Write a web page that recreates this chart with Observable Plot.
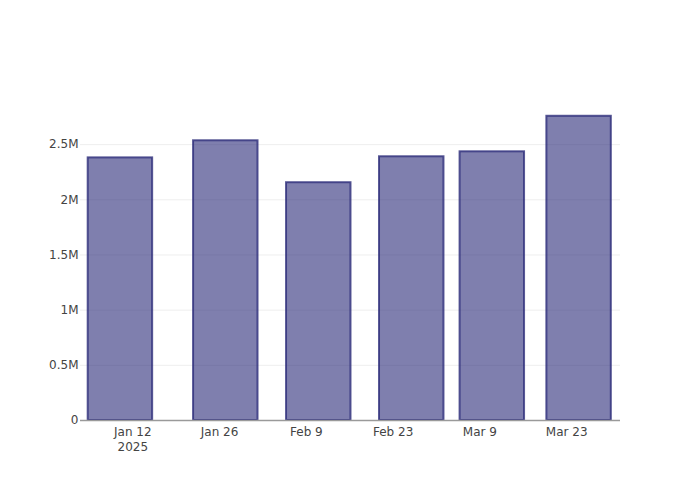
<!DOCTYPE html>
<html>
<head>
<meta charset="utf-8">
<script src="https://cdn.jsdelivr.net/npm/d3@7"></script>
<script src="https://cdn.jsdelivr.net/npm/@observablehq/plot@0.6"></script>
<style>
  html, body { margin: 0; padding: 0; background: #fff; }
  #chart svg { display: block; }
</style>
</head>
<body>
<div id="chart"></div>
<script>
const dates = ["2025-01-10", "2025-01-27", "2025-02-11", "2025-02-26", "2025-03-11", "2025-03-25"];
const values = [2380000, 2535000, 2155000, 2390000, 2435000, 2757000];
const xTickDates = ["2025-01-12", "2025-01-26", "2025-02-09", "2025-02-23", "2025-03-09", "2025-03-23"];
const xTickLabels = ["Jan 12\n2025", "Jan 26", "Feb 9", "Feb 23", "Mar 9", "Mar 23"];
const yTicks = [0, 500000, 1000000, 1500000, 2000000, 2500000];
const yTickLabels = ["0", "0.5M", "1M", "1.5M", "2M", "2.5M"];

const DAY = 86400000;
const halfWidth = 5.2 * DAY;
const data = dates.map((d, i) => {
  const t = new Date(d + "T00:00:00Z").getTime();
  return { x1: new Date(t - halfWidth), x2: new Date(t + halfWidth), y: values[i] };
});
const xTicks = xTickDates.map(d => new Date(d + "T00:00:00Z"));
const xLabel = new Map(xTicks.map((d, i) => [d.getTime(), xTickLabels[i]]));
const yLabel = new Map(yTicks.map((v, i) => [v, yTickLabels[i]]));

const chart = Plot.plot({
  width: 700,
  height: 500,
  marginLeft: 80,
  marginRight: 80,
  marginTop: 100,
  marginBottom: 80,
  style: { fontFamily: "'DejaVu Sans', sans-serif", fontSize: "12px", color: "#444", background: "#fff" },
  x: { type: "utc", domain: [new Date("2025-01-03T13:26:00Z"), new Date("2025-03-31T16:20:00Z")] },
  y: { domain: [0, 2900000] },
  marks: [
    Plot.gridY(yTicks.filter(v => v > 0), { stroke: "#eeeeee", strokeOpacity: 1, strokeWidth: 1 }),
    Plot.rectY(data, {
      x1: "x1", x2: "x2", y: "y",
      fill: "#2a2a78", fillOpacity: 0.6,
      stroke: "#2a2a78", strokeOpacity: 0.78, strokeWidth: 2
    }),
    Plot.ruleY([0], { stroke: "#9a9a9a", strokeWidth: 1.5 }),
    Plot.axisX({
      ticks: xTicks, tickSize: 0, tickPadding: 4, lineHeight: 1.3,
      tickFormat: d => xLabel.get(d.getTime()), label: null,
      fill: "#444", fontSize: 12
    }),
    Plot.axisY({
      ticks: yTicks, tickSize: 0, tickPadding: 2,
      tickFormat: v => yLabel.get(v), label: null,
      fill: "#444", fontSize: 12
    })
  ]
});
document.getElementById("chart").appendChild(chart);
</script>
</body>
</html>
